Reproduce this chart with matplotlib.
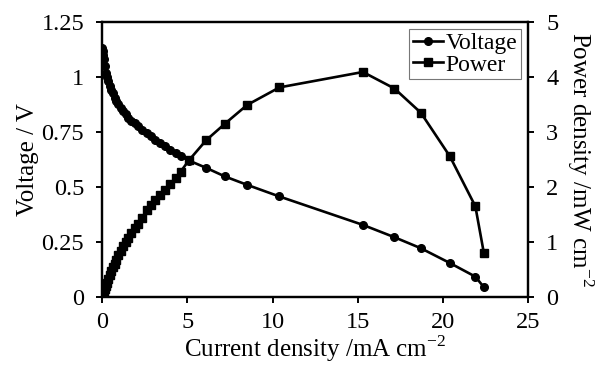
import matplotlib
matplotlib.use("Agg")
import matplotlib.pyplot as plt

current = [0, 0.03, 0.06, 0.1, 0.15, 0.2, 0.27, 0.35, 0.43, 0.52, 0.62, 0.72, 0.83, 0.95,
           1.08, 1.22, 1.37, 1.53, 1.7, 1.9, 2.1, 2.35, 2.6, 2.85, 3.1, 3.4, 3.7, 4.0, 4.3,
           4.6, 5.1, 6.1, 7.2, 8.5, 10.4, 15.3, 17.15, 18.7, 20.4, 21.9, 22.4]
voltage = [1.13, 1.12, 1.10, 1.08, 1.05, 1.02, 1.0, 0.98, 0.96, 0.94, 0.925, 0.905, 0.89, 0.875,
           0.86, 0.845, 0.83, 0.815, 0.80, 0.79, 0.775, 0.76, 0.745, 0.73, 0.715, 0.70, 0.685,
           0.67, 0.655, 0.64, 0.62, 0.587, 0.548, 0.51, 0.457, 0.328, 0.272, 0.222, 0.155, 0.093, 0.045]
power = [0, 0.03, 0.06, 0.1, 0.15, 0.2, 0.26, 0.33, 0.4, 0.47, 0.54, 0.61, 0.68, 0.76,
         0.84, 0.92, 1.0, 1.08, 1.16, 1.25, 1.33, 1.43, 1.58, 1.68, 1.77, 1.86, 1.95, 2.05,
         2.16, 2.28, 2.49, 2.85, 3.15, 3.49, 3.81, 4.09, 3.79, 3.35, 2.56, 1.65, 0.80]

x_ticks = [0, 5, 10, 15, 20, 25]
v_ticks = [0, 0.25, 0.5, 0.75, 1, 1.25]
v_tick_labels = ["0", "0.25", "0.5", "0.75", "1", "1.25"]
p_ticks = [0, 1, 2, 3, 4, 5]

plt.rcParams['font.family'] = ['Liberation Serif', 'DejaVu Serif']
plt.rcParams['mathtext.fontset'] = 'custom'
plt.rcParams['mathtext.rm'] = 'Liberation Serif'
fs = 17.5
fl = 18

fig = plt.figure(figsize=(6.05, 3.65), dpi=100)
ax = fig.add_axes([0.169, 0.186, 0.704, 0.754])
ax2 = ax.twinx()

l1, = ax.plot(current, voltage, color='black', lw=1.9, marker='o', ms=5.5, label='Voltage')
l2, = ax2.plot(current, power, color='black', lw=1.9, marker='s', ms=6, label='Power')

ax.set_xlim(0, 25)
ax.set_ylim(0, 1.25)
ax2.set_ylim(0, 5)
ax.set_xticks(x_ticks)
ax.set_xticklabels([str(t) for t in x_ticks])
ax.set_yticks(v_ticks)
ax.set_yticklabels(v_tick_labels)
ax2.set_yticks(p_ticks)
ax2.set_yticklabels([str(t) for t in p_ticks])

for a in (ax, ax2):
    for s in a.spines.values():
        s.set_linewidth(1.6)
    a.tick_params(direction='out', length=4, width=1.4, labelsize=fs)
ax.tick_params(axis='x', pad=7)
ax.tick_params(axis='y', pad=9)
ax2.tick_params(axis='y', pad=9)

ax.set_xlabel('Current density /mA cm$^{\\mathrm{-2}}$', fontsize=fl, labelpad=0)
ax.set_ylabel('Voltage / V', fontsize=fl, labelpad=2)
ax2.set_ylabel('Power density /mW cm$^{\\mathrm{-2}}$', fontsize=fl, rotation=270,
               va='bottom', labelpad=5)

leg = ax.legend(handles=[l1, l2], loc='upper right', fontsize=fs - 0.5, frameon=True,
                fancybox=False, edgecolor='#555555', handlelength=1.3, handletextpad=0.1,
                borderpad=0.15, labelspacing=0.0, borderaxespad=0.3)
leg.get_frame().set_linewidth(0.8)

fig.savefig('out.png', dpi=100)
